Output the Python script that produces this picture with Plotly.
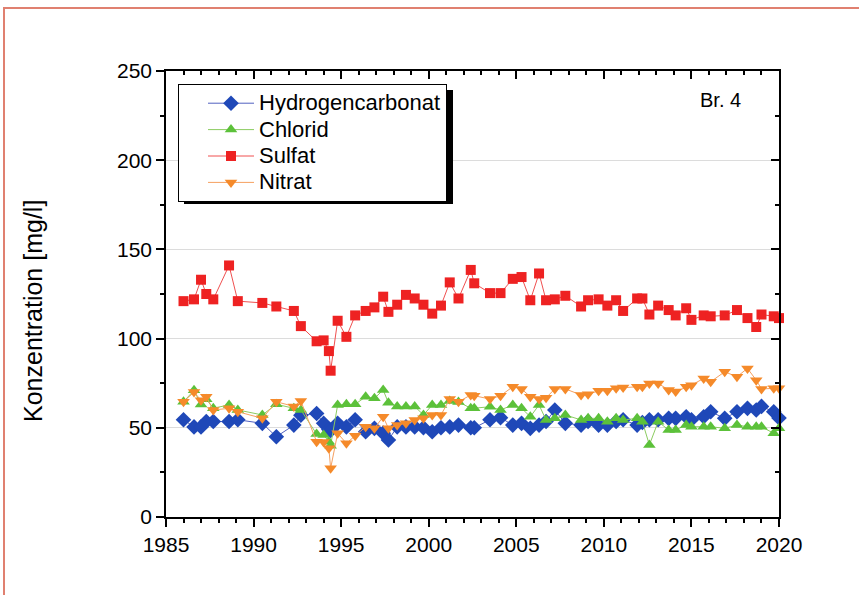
import plotly.graph_objects as go

# Sampling dates (decimal years)
dates = [1986.0, 1986.6, 1987.0, 1987.3, 1987.7, 1988.6, 1989.1, 1990.5, 1991.3, 1992.3,
         1992.7, 1993.6, 1994.0, 1994.3, 1994.4, 1994.8, 1995.3, 1995.8, 1996.4, 1996.9,
         1997.4, 1997.7, 1998.2, 1998.7, 1999.2, 1999.7, 2000.2, 2000.7, 2001.2, 2001.7,
         2002.4, 2002.6, 2003.5, 2004.1, 2004.8, 2005.3, 2005.8, 2006.3, 2006.7, 2007.2,
         2007.8, 2008.7, 2009.1, 2009.7, 2010.2, 2010.7, 2011.1, 2011.9, 2012.2, 2012.6,
         2013.1, 2013.7, 2014.1, 2014.7, 2015.0, 2015.7, 2016.1, 2016.9, 2017.6, 2018.2,
         2018.7, 2019.0, 2019.7, 2020.0]

hydrogencarbonat = [54.5, 50.5, 50.5, 53.5, 53.5, 53.5, 54.5, 52.5, 45.0, 51.5,
                    57.0, 58.0, 52.5, 49.0, 48.5, 52.5, 50.5, 54.5, 47.8, 49.7,
                    47.0, 43.2, 50.5, 50.5, 50.5, 50.0, 47.8, 50.0, 50.5, 51.5,
                    50.0, 50.0, 54.5, 55.7, 51.5, 52.5, 49.7, 51.5, 53.5, 60.0,
                    52.5, 51.5, 53.5, 51.5, 51.5, 53.5, 54.5, 51.5, 53.0, 54.5,
                    54.5, 55.3, 55.3, 56.2, 54.5, 56.2, 59.0, 55.3, 59.0, 60.9,
                    60.0, 62.0, 59.0, 55.5]

chlorid = [64.6, 71.0, 63.0, 66.0, 61.0, 62.8, 60.0, 57.2, 63.2, 61.0,
           60.0, 46.5, 46.0, 42.2, 40.0, 62.8, 63.2, 63.2, 67.4, 66.5,
           71.2, 64.0, 62.0, 62.0, 62.0, 57.2, 62.8, 62.8, 65.0, 64.5,
           61.0, 61.0, 61.8, 60.0, 62.8, 61.0, 56.2, 62.8, 54.4, 55.3,
           57.2, 54.4, 55.3, 55.3, 53.4, 55.3, 54.4, 55.3, 53.4, 40.4,
           53.4, 48.8, 48.8, 51.6, 50.6, 50.6, 50.6, 49.7, 51.6, 50.6,
           50.6, 50.6, 46.9, 49.7]

sulfat = [121.0, 122.0, 133.0, 125.0, 122.0, 141.0, 121.0, 120.0, 118.0, 115.5,
          107.0, 98.5, 99.0, 93.0, 82.0, 110.0, 101.0, 113.0, 115.5, 117.5,
          123.5, 115.0, 119.0, 124.5, 122.5, 119.0, 114.0, 118.5, 131.5, 122.5,
          138.5, 131.0, 125.5, 125.5, 133.5, 134.5, 121.5, 136.5, 121.5, 122.0,
          124.0, 118.0, 121.5, 122.0, 118.5, 121.5, 115.5, 122.5, 122.5, 113.5,
          118.5, 116.0, 113.0, 117.0, 110.5, 113.0, 112.5, 113.0, 116.0, 111.5,
          106.5, 113.5, 112.5, 111.5]

nitrat = [64.6, 70.0, 65.5, 67.4, 60.0, 60.9, 59.0, 55.3, 64.6, 62.0,
          65.0, 42.2, 42.0, 38.5, 27.3, 46.9, 41.3, 45.6, 50.6, 49.7,
          56.2, 49.7, 51.6, 52.5, 54.4, 55.3, 57.2, 57.2, 66.1, 64.6,
          68.4, 68.0, 66.1, 68.0, 73.0, 71.8, 67.4, 66.1, 66.8, 71.8,
          71.8, 68.4, 68.8, 70.7, 70.7, 72.2, 72.6, 73.0, 73.0, 74.9,
          74.9, 71.2, 70.3, 73.0, 73.9, 77.7, 75.8, 81.4, 78.6, 83.3,
          76.7, 71.8, 72.2, 72.2]

series_names = ["Hydrogencarbonat", "Chlorid", "Sulfat", "Nitrat"]
x_ticks = [1985, 1990, 1995, 2000, 2005, 2010, 2015, 2020]
y_ticks = [0, 50, 100, 150, 200, 250]

FONT = "Liberation Sans, Arial, sans-serif"

# plot area in pixels
L, R, T, B = 166, 779, 71, 517
W, H = 859, 595
pw, ph = R - L, B - T

def px(xp):
    return (xp - L) / pw

def py(yp):
    return (B - yp) / ph

styles = [
    dict(color="#1f48b8", symbol="diamond", size=12, lcolor="#5060c0"),
    dict(color="#5cc13a", symbol="triangle-up", size=11, lcolor="#8ccc60"),
    dict(color="#ee2222", symbol="square", size=10, lcolor="#f05050"),
    dict(color="#f58a2a", symbol="triangle-down", size=11, lcolor="#f5a060"),
]

fig = go.Figure()
for name, vals, st in zip(series_names, [hydrogencarbonat, chlorid, sulfat, nitrat], styles):
    fig.add_trace(go.Scatter(
        x=dates, y=vals, name=f"<span style='font-size:22px'>{name}</span>",
        mode="lines+markers",
        line=dict(color=st["lcolor"], width=1),
        marker=dict(color=st["color"], symbol=st["symbol"], size=st["size"],
                    line=dict(width=0)),
        cliponaxis=False,
    ))

# dummy trace for mirrored axes (top / right)
fig.add_trace(go.Scatter(x=[1985], y=[0], xaxis="x2", yaxis="y2", mode="markers",
                         marker=dict(opacity=0), showlegend=False, hoverinfo="skip"))

axis_common = dict(showline=True, linecolor="black", linewidth=1.5,
                   tickcolor="black", ticklen=8, tickwidth=1.5,
                   tickfont=dict(family=FONT, size=21, color="black"), zeroline=False)

fig.update_layout(
    width=W, height=H,
    margin=dict(l=L, r=W - R, t=T, b=H - B),
    paper_bgcolor="white", plot_bgcolor="white",
    showlegend=True,
    xaxis=dict(range=[1985, 2020], tickvals=x_ticks, ticks="outside", showgrid=False,
               minor=dict(dtick=1, tick0=1985, ticklen=4, tickcolor="black", ticks="outside"),
               **axis_common),
    yaxis=dict(range=[0, 250], tickvals=y_ticks, ticks="outside", showgrid=True,
               gridcolor="#dcdcdc", gridwidth=1,
               minor=dict(dtick=25, tick0=0, ticklen=4, tickcolor="black", ticks="outside"),
               **axis_common),
    xaxis2=dict(range=[1985, 2020], overlaying="x", side="top", anchor="y2",
                tickvals=x_ticks, ticks="inside", showticklabels=False, showgrid=False,
                minor=dict(dtick=1, tick0=1985, ticklen=4, tickcolor="black", ticks="inside"),
                **axis_common),
    yaxis2=dict(range=[0, 250], overlaying="y", side="right", anchor="x2",
                tickvals=y_ticks, ticks="inside", showticklabels=False, showgrid=False,
                minor=dict(dtick=25, tick0=0, ticklen=4, tickcolor="black", ticks="inside"),
                **axis_common),
    legend=dict(x=px(178), y=py(84), xanchor="left", yanchor="top",
                bgcolor="white", bordercolor="black", borderwidth=1,
                font=dict(family=FONT, size=18, color="black"),
                itemwidth=46, indentation=24, tracegroupgap=0),
)

# legend shadow
fig.add_shape(type="rect", xref="paper", yref="paper",
              x0=px(184), x1=px(453), y0=py(204), y1=py(90),
              fillcolor="black", line=dict(width=0), layer="above")

# page frame
fig.add_shape(type="path", xref="paper", yref="paper",
              path=f"M {px(4)},{py(596)} L {px(4)},{py(8)} L {px(860)},{py(8)}",
              line=dict(color="#e08070", width=2))

fig.add_annotation(text="Br. 4", xref="paper", yref="paper", x=px(743), y=py(100),
                   xanchor="right", yanchor="middle", showarrow=False,
                   font=dict(family=FONT, size=20, color="black"))

fig.add_annotation(text="Konzentration [mg/l]", xref="paper", yref="paper",
                   x=px(33), y=py(311), textangle=-90, showarrow=False,
                   xanchor="center", yanchor="middle",
                   font=dict(family=FONT, size=25, color="black"))

fig.write_html("out.html", config={"displayModeBar": False},
               post_script="document.body.style.margin='0px';")
